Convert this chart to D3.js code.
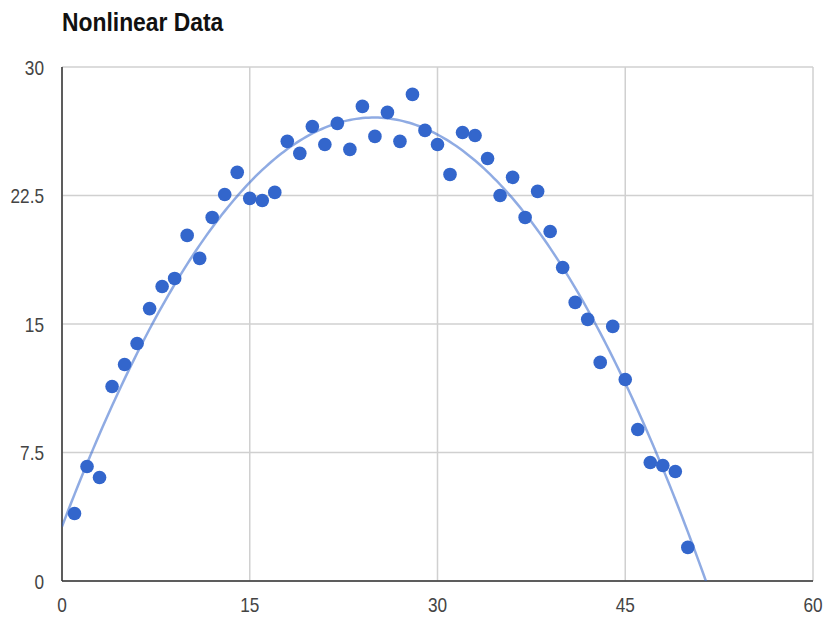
<!DOCTYPE html>
<html>
<head>
<meta charset="utf-8">
<script src="https://cdn.jsdelivr.net/npm/d3@7"></script>
<style>
  body { margin: 0; background: #fff; }
  svg { font-family: "Liberation Sans", Arial, sans-serif; }
</style>
</head>
<body>
<div id="chart"></div>
<script>
// data
var xValues = [1, 2, 3, 4, 5, 6, 7, 8, 9, 10, 11, 12, 13, 14, 15, 16, 17, 18, 19, 20,
               21, 22, 23, 24, 25, 26, 27, 28, 29, 30, 31, 32, 33, 34, 35, 36, 37, 38, 39, 40,
               41, 42, 43, 44, 45, 46, 47, 48, 49, 50];
var yValues = [3.94, 6.68, 6.04, 11.35, 12.64, 13.86, 15.9, 17.19, 17.66, 20.17,
               18.83, 21.22, 22.56, 23.85, 22.33, 22.21, 22.68, 25.66, 24.96, 26.53,
               25.48, 26.71, 25.19, 27.7, 25.95, 27.35, 25.66, 28.4, 26.3, 25.48,
               23.73, 26.18, 26.0, 24.66, 22.5, 23.56, 21.22, 22.74, 20.4, 18.3,
               16.26, 15.27, 12.76, 14.86, 11.76, 8.84, 6.92, 6.74, 6.39, 1.96];
var xTicks = [0, 15, 30, 45, 60];
var yTicks = [0, 7.5, 15, 22.5, 30];

var margin = {top: 67, right: 12, bottom: 36, left: 62};
var width = 825 - margin.left - margin.right;
var height = 617 - margin.top - margin.bottom;

var svg = d3.select("#chart").append("svg")
    .attr("width", 825)
    .attr("height", 617);

var g = svg.append("g")
    .attr("transform", "translate(" + margin.left + "," + margin.top + ")");

var x = d3.scaleLinear().domain([0, 60]).range([0, width]);
var y = d3.scaleLinear().domain([0, 30]).range([height, 0]);

// title (the source picture is squeezed sideways, so text is narrowed)
svg.append("text")
    .attr("transform", "translate(62,31) scale(0.88,1)")
    .attr("font-size", 26)
    .attr("font-weight", "bold")
    .attr("fill", "#111")
    .text("Nonlinear Data");

// gridlines
g.selectAll(".gx").data(xTicks).enter().append("line")
    .attr("x1", d => x(d)).attr("x2", d => x(d))
    .attr("y1", 0).attr("y2", height)
    .attr("stroke", "#d0d0d0").attr("stroke-width", 1.5);
g.selectAll(".gy").data(yTicks).enter().append("line")
    .attr("x1", 0).attr("x2", width)
    .attr("y1", d => y(d)).attr("y2", d => y(d))
    .attr("stroke", "#d0d0d0").attr("stroke-width", 1.5);

// axis lines
g.append("line").attr("x1", 0).attr("x2", 0).attr("y1", 0).attr("y2", height)
    .attr("stroke", "#333").attr("stroke-width", 1.5);
g.append("line").attr("x1", 0).attr("x2", width).attr("y1", height).attr("y2", height)
    .attr("stroke", "#333").attr("stroke-width", 1.5);

// tick labels
g.selectAll(".ty").data(yTicks).enter().append("text")
    .attr("transform", d => "translate(-18," + (y(d) + 7.5) + ") scale(0.82,1)")
    .attr("text-anchor", "end")
    .attr("font-size", 21)
    .attr("fill", "#444")
    .text(d => d);
g.selectAll(".tx").data(xTicks).enter().append("text")
    .attr("transform", d => "translate(" + x(d) + "," + (height + 31) + ") scale(0.82,1)")
    .attr("text-anchor", "middle")
    .attr("font-size", 21)
    .attr("fill", "#444")
    .text(d => d);

// quadratic trendline, least squares fit of the points
function fitQuadratic(xs, ys) {
    var s = [0, 0, 0, 0, 0], t = [0, 0, 0];
    xs.forEach(function(xi, i) {
        for (var k = 0; k < 5; k++) s[k] += Math.pow(xi, k);
        for (var k = 0; k < 3; k++) t[k] += Math.pow(xi, k) * ys[i];
    });
    var A = [[s[0], s[1], s[2], t[0]], [s[1], s[2], s[3], t[1]], [s[2], s[3], s[4], t[2]]];
    for (var c = 0; c < 3; c++) {
        for (var r = c + 1; r < 3; r++) {
            var f = A[r][c] / A[c][c];
            for (var k = c; k < 4; k++) A[r][k] -= f * A[c][k];
        }
    }
    var coef = [0, 0, 0];
    for (var r = 2; r >= 0; r--) {
        var v = A[r][3];
        for (var k = r + 1; k < 3; k++) v -= A[r][k] * coef[k];
        coef[r] = v / A[r][r];
    }
    return coef;
}
var coef = fitQuadratic(xValues, yValues);
var trend = d3.range(0, 60.01, 0.25).map(function(xi) {
    return [xi, coef[0] + coef[1] * xi + coef[2] * xi * xi];
}).filter(d => d[1] >= -0.5);

g.append("clipPath").attr("id", "clip").append("rect")
    .attr("width", width).attr("height", height);

g.append("path")
    .datum(trend)
    .attr("clip-path", "url(#clip)")
    .attr("fill", "none")
    .attr("stroke", "#3366cc")
    .attr("stroke-opacity", 0.55)
    .attr("stroke-width", 2.5)
    .attr("d", d3.line().x(d => x(d[0])).y(d => y(d[1])));

// points
g.selectAll(".pt").data(xValues).enter().append("circle")
    .attr("cx", d => x(d))
    .attr("cy", (d, i) => y(yValues[i]))
    .attr("r", 6.8)
    .attr("fill", "#3366cc");
</script>
</body>
</html>
